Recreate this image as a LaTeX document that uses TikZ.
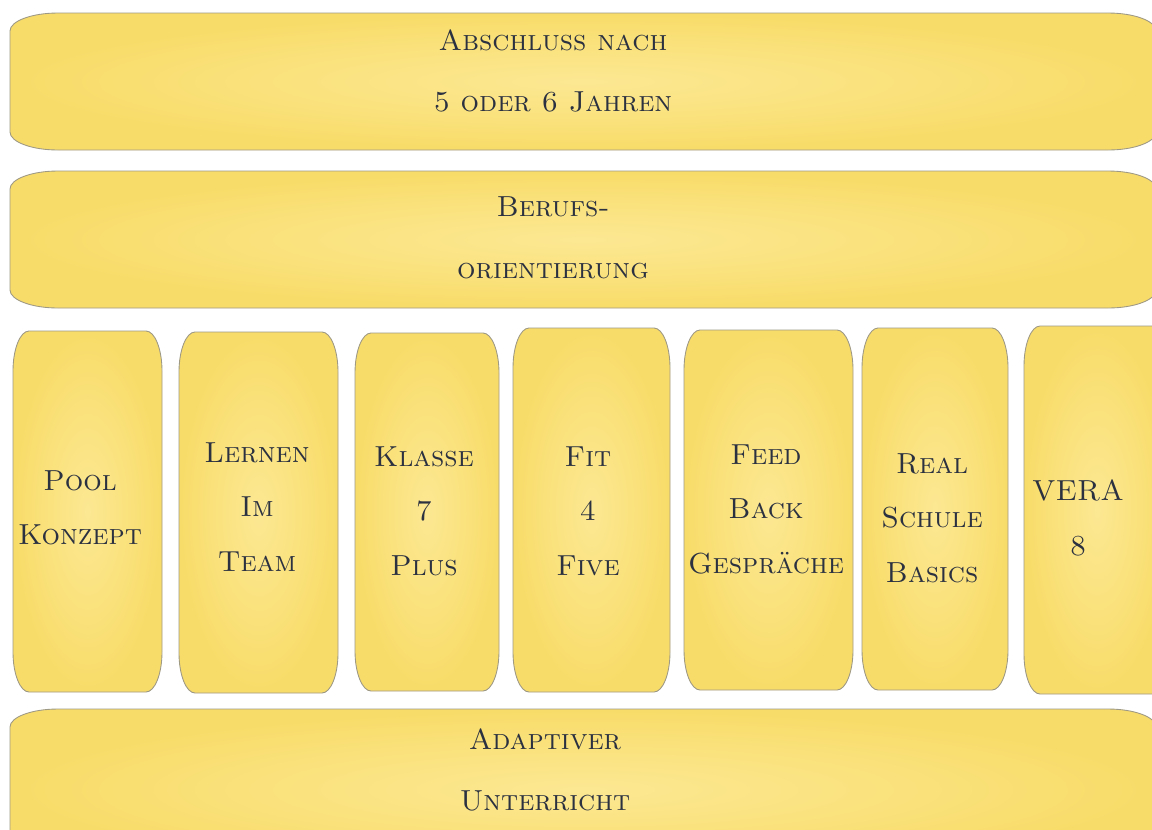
\documentclass[tikz,border=0pt]{standalone}
\usetikzlibrary{positioning}

\definecolor{zettelgelb}{HTML}{F8DC69}
\definecolor{zettelhell}{HTML}{FCE893}
\definecolor{zettelrand}{HTML}{9E9985}
\definecolor{stift}{HTML}{2B3140}

\tikzset{
	zettel/.style={draw=zettelrand, line width=0.5pt, inner color=zettelhell, outer color=zettelgelb},
	schrift/.style={text=stift, align=center, font=\fontsize{16.5}{31}\selectfont\scshape}
}

% #1,#2 oben links, #3,#4 unten rechts, #5,#6 Rundung
\newcommand{\zettelform}[6]{
	\shade[zettel] (#1, {#2+#6}) .. controls (#1, {#2+0.45*#6}) and ({#1+0.45*#5}, #2) .. ({#1+#5}, #2)
		-- ({#3-#5}, #2) .. controls ({#3-0.45*#5}, #2) and (#3, {#2+0.45*#6}) .. (#3, {#2+#6})
		-- (#3, {#4-#6}) .. controls (#3, {#4-0.45*#6}) and ({#3-0.45*#5}, #4) .. ({#3-#5}, #4)
		-- ({#1+#5}, #4) .. controls ({#1+0.45*#5}, #4) and (#1, {#4-0.45*#6}) .. (#1, {#4-#6}) -- cycle;
}

\begin{document}
\begin{tikzpicture}[x=0.02cm, y=-0.02cm, every node/.style={schrift}]
	\useasboundingbox[fill=white] (0, 0) rectangle (1152, 829);

	\zettelform{10}{13}{1156}{150}{48}{18}
	\zettelform{10}{171}{1156}{308}{48}{18}
	\zettelform{10}{709}{1156}{870}{48}{18}

	\zettelform{13}{331}{162}{692}{16}{40}
	\zettelform{179}{332}{338}{693}{16}{40}
	\zettelform{355}{333}{499}{691}{16}{40}
	\zettelform{513}{328}{670}{692}{16}{40}
	\zettelform{684}{330}{853}{690}{16}{40}
	\zettelform{862}{328}{1008}{690}{16}{40}
	\zettelform{1024}{326}{1170}{694}{16}{40}

	\node at (553, 71) (abschluss)	{Abschluss nach\\[4pt]5 oder 6 Jahren};
	\node at (553, 238) (beruf)	{Berufs-\\[4pt]orientierung};
	\node at (545, 770) (adaptiv)	{Adaptiver\\[4pt]Unterricht};

	\node at (80, 508) (pool)	{Pool\\Konzept};
	\node at (257, 507) (lernen)	{Lernen\\Im\\Team};
	\node at (424, 511) (klasse)	{Klasse\\7\\Plus};
	\node at (588, 511) (fit)	{Fit\\4\\Five};
	\node at (766, 509) (feedback)	{Feed\\Back\\Gespräche};
	\node at (932, 518) (real)	{Real\\Schule\\Basics};
	\node at (1078, 518) (vera)	{VERA\\8};
\end{tikzpicture}
\end{document}
